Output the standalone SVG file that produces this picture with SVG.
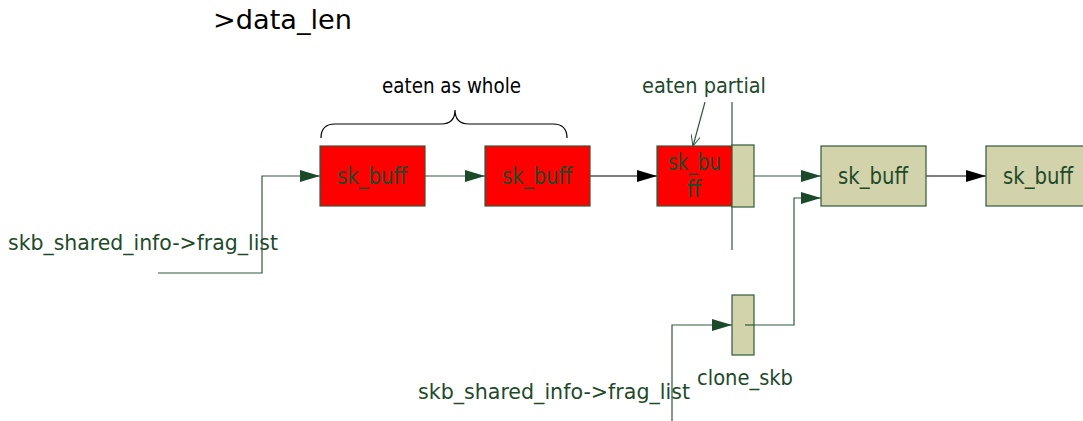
<svg xmlns="http://www.w3.org/2000/svg" width="1083" height="421" viewBox="0 0 1083 421">
<style>
.red{fill:#ff0000;stroke:#2f5a3a;stroke-width:1.2}
.tan{fill:#d3d3ab;stroke:#2f5a3a;stroke-width:1.2}
.lbl{font-family:"DejaVu Sans Condensed","DejaVu Sans",sans-serif;font-stretch:condensed;font-size:23px;fill:#1e4a2a}
.gt{font-family:"DejaVu Sans Condensed","DejaVu Sans",sans-serif;font-stretch:condensed;font-size:21px;fill:#1e4a2a}
.bt{font-family:"DejaVu Sans Condensed","DejaVu Sans",sans-serif;font-stretch:condensed;font-size:21px;fill:#000}
.ln{fill:none;stroke:#2f5a3a;stroke-width:1.2}
.lk{fill:none;stroke:#000;stroke-width:1.2}
</style>
<defs>
<marker id="ag" markerWidth="20" markerHeight="12" refX="20" refY="6" orient="auto" markerUnits="userSpaceOnUse"><path d="M0,0 L20,6 L0,12 Z" fill="#1a4a2a"/></marker>
<marker id="ab" markerWidth="20" markerHeight="12" refX="20" refY="6" orient="auto" markerUnits="userSpaceOnUse"><path d="M0,0 L20,6 L0,12 Z" fill="#000"/></marker>
<marker id="ao" markerWidth="12" markerHeight="10" refX="11" refY="5" orient="auto" markerUnits="userSpaceOnUse"><path d="M0,0 L11,5 L0,10" fill="none" stroke="#2f5a3a" stroke-width="1"/></marker>
</defs>
<text x="213" y="29" font-family="DejaVu Sans,sans-serif" font-size="27" fill="#000" textLength="139" lengthAdjust="spacingAndGlyphs">&gt;data_len</text>
<g id="connectors">
<polyline class="ln" points="158,273 262,273 262,176 320,176" marker-end="url(#ag)"/>
<line class="ln" x1="425" y1="176" x2="485" y2="176" marker-end="url(#ag)"/>
<line class="lk" x1="590" y1="176" x2="657" y2="176" marker-end="url(#ab)"/>
<line class="ln" x1="754" y1="176" x2="821" y2="176" marker-end="url(#ag)"/>
<polyline class="ln" points="745,325 794,325 794,198 821,198" marker-end="url(#ag)"/>
<line class="lk" x1="926" y1="176" x2="986" y2="176" marker-end="url(#ab)"/>
<polyline class="ln" points="672,421 672,325 732,325" marker-end="url(#ag)"/>
<line class="ln" x1="732" y1="102" x2="732" y2="250"/>
<line class="ln" x1="705" y1="102" x2="693" y2="146" marker-end="url(#ao)"/>
<path d="M321,138 Q321,124 335,124 L441,124 Q455,124 455,110 Q455,124 469,124 L553,124 Q567,124 567,138" fill="none" stroke="#000" stroke-width="1.2"/>
</g>
<g id="label-whole"><text class="bt" x="382" y="93" textLength="139" lengthAdjust="spacingAndGlyphs">eaten as whole</text></g>
<g id="label-partial"><text class="gt" x="642" y="93" textLength="124" lengthAdjust="spacingAndGlyphs">eaten partial</text></g>
<g id="label-frag1"><text class="gt" x="8" y="250" textLength="270" lengthAdjust="spacingAndGlyphs">skb_shared_info-&gt;frag_list</text></g>
<g id="label-frag2"><text class="gt" x="418" y="399" textLength="272" lengthAdjust="spacingAndGlyphs">skb_shared_info-&gt;frag_list</text></g>
<g id="node1"><rect class="red" x="320" y="146" width="105" height="60"/><text class="lbl" x="337" y="184" textLength="70" lengthAdjust="spacingAndGlyphs">sk_buff</text></g>
<g id="node2"><rect class="red" x="485" y="146" width="105" height="60"/><text class="lbl" x="502" y="184" textLength="70" lengthAdjust="spacingAndGlyphs">sk_buff</text></g>
<g id="node3"><rect class="red" x="657" y="146" width="75" height="60"/><text class="lbl" x="668" y="170" textLength="53" lengthAdjust="spacingAndGlyphs">sk_bu</text><text class="lbl" x="694" y="197" text-anchor="middle">ff</text></g>
<g id="node3-tail"><rect class="tan" x="732" y="145" width="22" height="62"/></g>
<g id="node4"><rect class="tan" x="821" y="146" width="105" height="60"/><text class="lbl" x="838" y="184" textLength="70" lengthAdjust="spacingAndGlyphs">sk_buff</text></g>
<g id="node5"><rect class="tan" x="986" y="146" width="105" height="60"/><text class="lbl" x="1003" y="184" textLength="70" lengthAdjust="spacingAndGlyphs">sk_buff</text></g>
<g id="clone"><rect class="tan" x="732" y="295" width="22" height="60"/><line class="ln" x1="745" y1="325" x2="754" y2="325"/><text class="gt" x="697" y="385" textLength="96" lengthAdjust="spacingAndGlyphs">clone_skb</text></g>
</svg>
